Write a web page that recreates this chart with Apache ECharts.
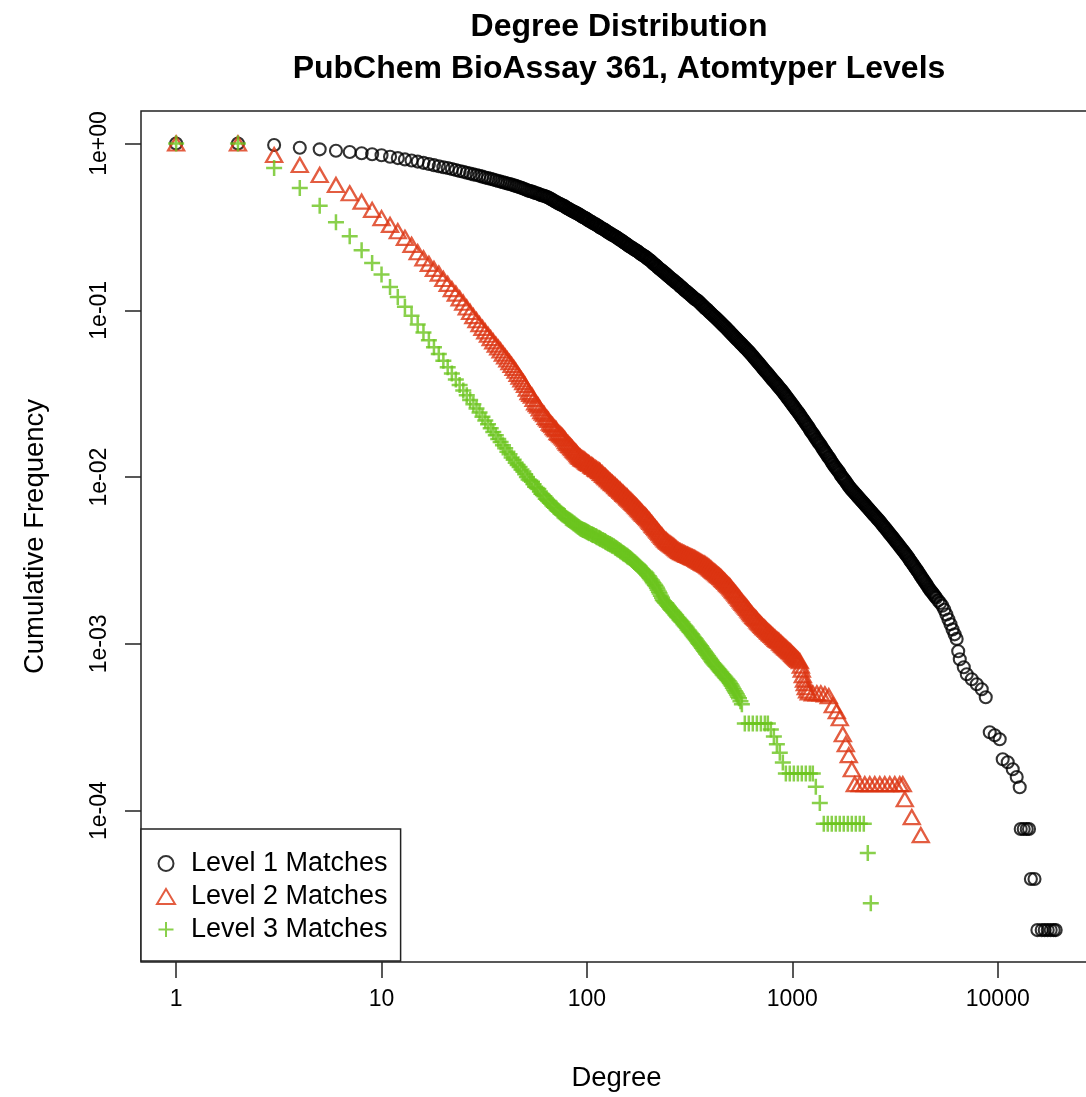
<!DOCTYPE html>
<html>
<head>
<meta charset="utf-8">
<script src="https://cdn.jsdelivr.net/npm/echarts@6/dist/echarts.min.js"></script>
<style>
html,body{margin:0;padding:0;background:#ffffff;}
#chart{width:1086px;height:1097px;}
</style>
</head>
<body>
<div id="chart"></div>
<script>
// ---------------- data ----------------
const titleLines = ['Degree Distribution', 'PubChem BioAssay 361, Atomtyper Levels'];
const xAxisTitle = 'Degree';
const yAxisTitle = 'Cumulative Frequency';
const seriesNames = ['Level 1 Matches', 'Level 2 Matches', 'Level 3 Matches'];

const xTickValues = [1, 10, 100, 1000, 10000];
const xTickLabels = ['1', '10', '100', '1000', '10000'];
const yTickValues = [1, 0.1, 0.01, 0.001, 0.0001];
const yTickLabels = ['1e+00', '1e-01', '1e-02', '1e-03', '1e-04'];

// axis limits (degree, frequency)
const xLimits = [0.6745, 28770];
const yLimits = [1.236e-5, 1.567];

// [degree, cumulative frequency]
const level1Points = [
[1,1],[2,1],[3,0.980],[4,0.944],[5,0.923],[6,0.906],[7,0.889],[8,0.874],[9,0.862],[10,0.850],
[11,0.833],[12,0.818],[13,0.803],[14,0.791],[15,0.779],[16,0.766],[17,0.754],[18,0.742],[19,0.731],[20,0.720],
[21,0.713],[22,0.703],[23,0.694],[24,0.685],[25,0.677],[26,0.668],[27,0.661],[28,0.653],[29,0.647],[30,0.640],
[31,0.633],[32,0.626],[33,0.620],[34,0.614],[35,0.608],[36,0.602],[37,0.596],[38,0.591],[39,0.586],[40,0.581],
[41,0.576],[42,0.572],[43,0.567],[44,0.562],[45,0.557],[46,0.552],[47,0.547],[48,0.542],[49,0.537],[50,0.532],
[51,0.526],[52,0.521],[54,0.516],[55,0.511],[56,0.505],[58,0.500],[59,0.495],[60,0.490],[62,0.486],[63,0.481],
[65,0.475],[66,0.468],[68,0.460],[69,0.453],[71,0.446],[72,0.440],[74,0.433],[76,0.426],[78,0.420],[79,0.413],
[81,0.407],[83,0.401],[85,0.394],[87,0.388],[89,0.383],[91,0.377],[93,0.371],[95,0.364],[98,0.358],[100,0.352],
[102,0.346],[105,0.340],[107,0.334],[110,0.329],[112,0.323],[115,0.317],[117,0.312],[120,0.307],[123,0.302],[126,0.296],
[129,0.291],[132,0.286],[135,0.281],[138,0.276],[141,0.271],[145,0.266],[148,0.261],[151,0.256],[155,0.251],[158,0.246],
[162,0.241],[166,0.237],[170,0.232],[174,0.228],[178,0.224],[182,0.219],[186,0.215],[191,0.211],[195,0.207],[200,0.202],
[204,0.198],[209,0.193],[214,0.188],[219,0.184],[224,0.179],[229,0.175],[234,0.171],[240,0.167],[245,0.163],[251,0.159],
[257,0.155],[263,0.152],[269,0.148],[275,0.145],[282,0.141],[288,0.138],[295,0.134],[302,0.131],[309,0.128],[316,0.125],
[324,0.122],[331,0.119],[339,0.116],[347,0.114],[355,0.111],[363,0.108],[372,0.105],[380,0.102],[389,0.0994],[398,0.0968],
[407,0.0942],[417,0.0917],[427,0.0892],[437,0.0868],[447,0.0845],[457,0.0822],[468,0.0800],[479,0.0777],[490,0.0754],[501,0.0732],
[513,0.0711],[525,0.0690],[537,0.0670],[550,0.0651],[562,0.0632],[575,0.0614],[589,0.0596],[603,0.0579],[617,0.0562],[631,0.0544],
[646,0.0526],[661,0.0509],[676,0.0492],[692,0.0476],[708,0.0460],[724,0.0445],[741,0.0430],[759,0.0416],[776,0.0402],[794,0.0389],
[813,0.0376],[832,0.0364],[851,0.0352],[871,0.0340],[891,0.0329],[912,0.0317],[933,0.0305],[955,0.0294],[977,0.0283],[1000,0.0272],
[1023,0.0262],[1047,0.0252],[1072,0.0243],[1096,0.0233],[1122,0.0224],[1148,0.0215],[1175,0.0206],[1202,0.0198],[1230,0.0189],[1259,0.0182],
[1288,0.0174],[1318,0.0167],[1349,0.0160],[1380,0.0154],[1413,0.0147],[1445,0.0141],[1479,0.0135],[1514,0.0130],[1549,0.0124],[1585,0.0119],
[1622,0.0114],[1660,0.0110],[1698,0.0106],[1738,0.0101],[1778,0.00975],[1820,0.00937],[1862,0.00900],[1905,0.00865],[1950,0.00837],[1995,0.00811],
[2042,0.00785],[2089,0.00760],[2138,0.00736],[2188,0.00713],[2239,0.00691],[2291,0.00669],[2344,0.00648],[2399,0.00627],[2455,0.00607],[2512,0.00588],
[2570,0.00570],[2630,0.00552],[2692,0.00534],[2754,0.00515],[2818,0.00498],[2884,0.00481],[2951,0.00464],[3020,0.00448],[3090,0.00433],[3162,0.00417],
[3236,0.00402],[3311,0.00388],[3388,0.00374],[3467,0.00361],[3548,0.00348],[3631,0.00335],[3715,0.00321],[3802,0.00308],[3890,0.00296],[3981,0.00284],
[4074,0.00273],[4169,0.00261],[4266,0.00250],[4365,0.00240],[4467,0.00230],[4571,0.00220],[4677,0.00211],[4786,0.00204],[4898,0.00196],[5012,0.00189],
[5129,0.00182],[5248,0.00176],[5370,0.00169],[5495,0.00160],[5623,0.00150],[5754,0.00140],[5888,0.00131],[6026,0.00122],[6166,0.00114],[6310,0.00107],
[6420,0.000902],[6534,0.000808],[6834,0.000723],[7066,0.000657],[7474,0.000613],[7904,0.000572],[8359,0.000534],[8742,0.000478],
[9144,0.000295],[9669,0.000283],[10225,0.000268],[10575,0.000203],[11185,0.000195],[11830,0.000177],[12370,0.000159],[12795,0.000138],
[12940,7.75e-5],[13380,7.75e-5],[13840,7.75e-5],[14200,7.75e-5],[14500,3.89e-5],[15100,3.89e-5],
[15600,1.92e-5],[16370,1.92e-5],[16930,1.92e-5],[17510,1.92e-5],[18110,1.92e-5],[18730,1.92e-5],[19150,1.92e-5],
// further readings along the dense part of the band
[53,0.518],[57,0.503],[61,0.488],[64,0.478],[67,0.464],[70,0.449],[73,0.437],[75,0.430],[77,0.423],[80,0.410],
[82,0.404],[84,0.397],[86,0.391],[88,0.385],[90,0.380],[92,0.374],[94,0.367],[96,0.362],[97,0.360],[99,0.355],
[101,0.349],[103,0.343],[106,0.337],[108,0.331],[111,0.326],[114,0.320],[116,0.314],[119,0.309],[122,0.304],[124,0.299],
[127,0.293],[130,0.288],[133,0.283],[137,0.278],[140,0.273],[143,0.268],[146,0.263],[150,0.258],[153,0.253],[157,0.248],
[160,0.243],[164,0.239],[168,0.234],[172,0.230],[176,0.226],[180,0.221],[184,0.217],[188,0.213],[193,0.209],[197,0.204],
[202,0.200],[207,0.195],[211,0.190],[216,0.186],[221,0.181],[226,0.177],[232,0.173],[237,0.169],[243,0.165],[248,0.161],
[254,0.157],[260,0.153],[266,0.150],[272,0.146],[279,0.143],[285,0.139],[292,0.136],[299,0.132],[306,0.129],[313,0.126],
[320,0.123],[327,0.120],[335,0.117],[343,0.115],[351,0.112],[359,0.109],[367,0.106],[376,0.103],[385,0.101],[394,0.0981],
[403,0.0955],[412,0.0929],[422,0.0904],[432,0.0880],[442,0.0856],[452,0.0833],[462,0.0811],[473,0.0788],[484,0.0765],[496,0.0743],
[507,0.0721],[519,0.0700],[531,0.0680],[543,0.0660],[556,0.0641],[569,0.0623],[582,0.0605],[596,0.0587],[610,0.0570],[624,0.0553],
[638,0.0535],[653,0.0517],[669,0.0500],[684,0.0484],[700,0.0468],[716,0.0452],[733,0.0437],[750,0.0423],[768,0.0409],[785,0.0395],
[804,0.0382],[823,0.0370],[842,0.0358],[861,0.0346],[882,0.0334],[902,0.0323],[923,0.0311],[944,0.0299],[967,0.0288],[989,0.0277],
[1012,0.0267],[1035,0.0257],[1059,0.0247],[1084,0.0238],[1109,0.0228],[1135,0.0219],[1161,0.0210],[1189,0.0202],[1216,0.0193],[1244,0.0185],
[1274,0.0178],[1303,0.0170],[1334,0.0163],[1365,0.0157],[1396,0.0150],[1429,0.0144],[1462,0.0138],[1496,0.0132],[1532,0.0127],[1567,0.0121],
[1603,0.0116],[1641,0.0112],[1679,0.0108],[1718,0.0103],[1758,0.00992],[1799,0.00956],[1841,0.00918],[1884,0.00882],[1927,0.00851],[1972,0.00824],
[2018,0.00798],[2066,0.00772],[2113,0.00748],[2163,0.00724],[2213,0.00702],[2265,0.00680],[2318,0.00658],[2371,0.00637],[2427,0.00617],[2483,0.00597],
[2541,0.00579],[2600,0.00561],[2661,0.00543],[2723,0.00524],[2786,0.00506],[2851,0.00489],[2918,0.00472],[2985,0.00456],[3055,0.00440],[3126,0.00425],
[3199,0.00409],[3274,0.00395],[3349,0.00381],[3427,0.00367],[3507,0.00354],[3589,0.00341],[3673,0.00328],[3758,0.00314],[3846,0.00302],[3935,0.00290],
[4027,0.00278],[4121,0.00267],[4217,0.00255],[4315,0.00245],[4416,0.00235],[4519,0.00225],[4624,0.00215],[4731,0.00207],[4842,0.00200],[4955,0.00192]
];

const level2Points = [
[1,1],[2,1],[3,0.853],[4,0.743],[5,0.648],[6,0.564],[7,0.503],[8,0.448],[9,0.400],[10,0.357],
[11,0.325],[12,0.298],[13,0.272],[14,0.247],[15,0.223],[16,0.205],[17,0.190],[18,0.177],[19,0.166],[20,0.154],
[21,0.144],[22,0.134],[23,0.126],[24,0.118],[25,0.111],[26,0.104],[27,0.0977],[28,0.0922],[29,0.0872],[30,0.0825],
[31,0.0785],[32,0.0747],[33,0.0713],[34,0.0681],[35,0.0651],[36,0.0623],[37,0.0598],[38,0.0574],[39,0.0550],[40,0.0528],
[41,0.0507],[42,0.0488],[43,0.0470],[44,0.0452],[45,0.0434],[46,0.0416],[47,0.0400],[48,0.0385],[49,0.0371],[50,0.0357],
[51,0.0339],[52,0.0323],[54,0.0308],[55,0.0294],[56,0.0280],[58,0.0268],[59,0.0258],[60,0.0248],[62,0.0238],[63,0.0229],
[65,0.0220],[66,0.0212],[68,0.0205],[69,0.0199],[71,0.0193],[72,0.0186],[74,0.0181],[76,0.0175],[78,0.0169],[79,0.0164],
[81,0.0159],[83,0.0154],[85,0.0149],[87,0.0144],[89,0.0140],[91,0.0135],[93,0.0132],[95,0.0129],[98,0.0126],[100,0.0123],
[102,0.0121],[105,0.0118],[107,0.0116],[110,0.0113],[112,0.0111],[115,0.0109],[117,0.0106],[120,0.0103],[123,0.0101],[126,0.00980],
[129,0.00955],[132,0.00930],[135,0.00906],[138,0.00882],[141,0.00859],[145,0.00836],[148,0.00814],[151,0.00793],[155,0.00772],[158,0.00752],
[162,0.00732],[166,0.00710],[170,0.00689],[174,0.00669],[178,0.00649],[182,0.00630],[186,0.00611],[191,0.00593],[195,0.00576],[200,0.00557],
[204,0.00538],[209,0.00519],[214,0.00502],[219,0.00485],[224,0.00468],[229,0.00452],[234,0.00437],[240,0.00422],[245,0.00413],[251,0.00403],
[257,0.00394],[263,0.00386],[269,0.00377],[275,0.00368],[282,0.00360],[288,0.00355],[295,0.00350],[302,0.00345],[309,0.00341],[316,0.00336],
[324,0.00332],[331,0.00328],[339,0.00323],[347,0.00317],[355,0.00312],[363,0.00307],[372,0.00302],[380,0.00297],[389,0.00291],[398,0.00284],
[407,0.00277],[417,0.00271],[427,0.00264],[437,0.00258],[447,0.00252],[457,0.00245],[468,0.00238],[479,0.00231],[490,0.00225],[501,0.00218],
[513,0.00210],[525,0.00203],[537,0.00196],[550,0.00189],[562,0.00182],[575,0.00176],[589,0.00170],[603,0.00164],[617,0.00158],[631,0.00152],
[646,0.00147],[661,0.00143],[676,0.00138],[692,0.00134],[708,0.00130],[724,0.00126],[741,0.00123],[759,0.00119],[776,0.00116],[794,0.00113],
[813,0.00110],[832,0.00107],[851,0.00105],[871,0.00102],[891,0.000993],[912,0.000968],[933,0.000944],[955,0.000920],[977,0.000896],[1000,0.000871],
[1023,0.000847],[1047,0.000823],[1072,0.000800],[1088,0.000786],[1100,0.000740],[1112,0.000700],[1125,0.000648],[1140,0.000610],[1150,0.000580],
[1163,0.000549],[1180,0.000525],[1203,0.000512],[1258,0.000505],[1316,0.000505],[1376,0.000505],[1440,0.000498],[1505,0.000485],
[1574,0.000428],[1646,0.000394],[1702,0.000358],[1761,0.000287],[1821,0.000250],[1883,0.000215],[1948,0.000177],
[2014,0.000144],[2130,0.000144],[2253,0.000144],[2383,0.000144],[2520,0.000144],[2666,0.000144],[2819,0.000144],[2982,0.000144],[3154,0.000144],[3335,0.000144],[3450,0.000144],
[3528,0.000117],[3815,9.14e-5],[4220,7.13e-5],
// further readings along the dense part of the band
[53,0.0315],[57,0.0274],[61,0.0243],[64,0.0225],[67,0.0208],[70,0.0196],[73,0.0184],[75,0.0178],[77,0.0172],[80,0.0161],
[82,0.0156],[84,0.0151],[86,0.0146],[88,0.0142],[90,0.0137],[92,0.0133],[94,0.0130],[96,0.0128],[97,0.0127],[99,0.0124],
[101,0.0122],[103,0.0120],[106,0.0117],[108,0.0115],[111,0.0112],[114,0.0110],[116,0.0108],[119,0.0105],[122,0.0102],[124,0.00995],
[127,0.00968],[130,0.00943],[133,0.00918],[137,0.00894],[140,0.00871],[143,0.00848],[146,0.00825],[150,0.00804],[153,0.00783],[157,0.00762],
[160,0.00742],[164,0.00721],[168,0.00700],[172,0.00679],[176,0.00659],[180,0.00640],[184,0.00621],[188,0.00602],[193,0.00585],[197,0.00567],
[202,0.00548],[207,0.00529],[211,0.00511],[216,0.00494],[221,0.00477],[226,0.00460],[232,0.00445],[237,0.00430],[243,0.00418],[248,0.00408],
[254,0.00399],[260,0.00390],[266,0.00382],[272,0.00373],[279,0.00364],[285,0.00358],[292,0.00353],[299,0.00348],[306,0.00343],[313,0.00339],
[320,0.00334],[327,0.00330],[335,0.00326],[343,0.00320],[351,0.00315],[359,0.00310],[367,0.00305],[376,0.00300],[385,0.00294],[394,0.00288],
[403,0.00281],[412,0.00274],[422,0.00268],[432,0.00261],[442,0.00255],[452,0.00249],[462,0.00242],[473,0.00235],[484,0.00228],[496,0.00222],
[507,0.00214],[519,0.00207],[531,0.00200],[543,0.00193],[556,0.00186],[569,0.00179],[582,0.00173],[596,0.00167],[610,0.00161],[624,0.00155],
[638,0.00150],[653,0.00145],[669,0.00141],[684,0.00136],[700,0.00132],[716,0.00128],[733,0.00125],[750,0.00121],[768,0.00118],[785,0.00115],
[804,0.00112],[823,0.00109],[842,0.00106],[861,0.00104],[882,0.00101],[902,0.000981],[923,0.000956],[944,0.000932],[967,0.000908],[989,0.000884],
[1012,0.000859],[1035,0.000835],[1059,0.000812]
];

const level3Points = [
[1,1],[2,1],[3,0.713],[4,0.541],[5,0.424],[6,0.337],[7,0.278],[8,0.229],[9,0.192],[10,0.164],
[11,0.138],[12,0.120],[13,0.105],[14,0.0928],[15,0.0823],[16,0.0736],[17,0.0662],[18,0.0600],[19,0.0546],[20,0.0499],
[21,0.0455],[22,0.0418],[23,0.0385],[24,0.0356],[25,0.0330],[26,0.0309],[27,0.0290],[28,0.0273],[29,0.0258],[30,0.0244],
[31,0.0230],[32,0.0218],[33,0.0207],[34,0.0196],[35,0.0186],[36,0.0178],[37,0.0169],[38,0.0162],[39,0.0155],[40,0.0149],
[41,0.0142],[42,0.0137],[43,0.0131],[44,0.0127],[45,0.0122],[46,0.0118],[47,0.0115],[48,0.0111],[49,0.0108],[50,0.0104],
[51,0.0100],[52,0.00968],[54,0.00936],[55,0.00905],[56,0.00876],[58,0.00847],[59,0.00819],[60,0.00793],[62,0.00767],[63,0.00742],
[65,0.00719],[66,0.00701],[68,0.00682],[69,0.00664],[71,0.00647],[72,0.00630],[74,0.00613],[76,0.00597],[78,0.00584],[79,0.00571],
[81,0.00559],[83,0.00547],[85,0.00535],[87,0.00524],[89,0.00512],[91,0.00501],[93,0.00492],[95,0.00485],[98,0.00477],[100,0.00470],
[102,0.00463],[105,0.00456],[107,0.00450],[110,0.00443],[112,0.00436],[115,0.00429],[117,0.00423],[120,0.00416],[123,0.00409],[126,0.00403],
[129,0.00397],[132,0.00390],[135,0.00384],[138,0.00376],[141,0.00369],[145,0.00361],[148,0.00354],[151,0.00347],[155,0.00340],[158,0.00333],
[162,0.00327],[166,0.00318],[170,0.00310],[174,0.00302],[178,0.00294],[182,0.00286],[186,0.00278],[191,0.00271],[195,0.00264],[200,0.00254],
[204,0.00244],[209,0.00235],[214,0.00226],[219,0.00217],[224,0.00205],[229,0.00194],[234,0.00183],[240,0.00177],[245,0.00172],[251,0.00166],
[257,0.00160],[263,0.00155],[269,0.00150],[275,0.00145],[282,0.00140],[288,0.00136],[295,0.00131],[302,0.00127],[309,0.00122],[316,0.00118],
[324,0.00114],[331,0.00110],[339,0.00106],[347,0.00102],[355,0.000984],[363,0.000947],[372,0.000910],[380,0.000876],[389,0.000842],[398,0.000810],
[407,0.000779],[417,0.000752],[427,0.000728],[437,0.000704],[447,0.000681],[457,0.000658],[468,0.000637],[479,0.000616],[490,0.000596],[501,0.000573],
[513,0.000546],[525,0.000520],[537,0.000496],[550,0.000472],[568,0.000434],
[587,0.000333],[614,0.000333],[642,0.000333],[672,0.000333],[703,0.000333],[735,0.000333],[760,0.000333],
[786,0.000306],[813,0.000278],[841,0.000250],[869,0.000222],[899,0.000194],
[930,0.000167],[972,0.000167],[1017,0.000167],[1064,0.000167],[1112,0.000167],[1163,0.000167],[1217,0.000167],[1258,0.000167],
[1301,0.000139],[1361,0.000111],
[1423,8.33e-5],[1488,8.33e-5],[1556,8.33e-5],[1628,8.33e-5],[1702,8.33e-5],[1780,8.33e-5],[1863,8.33e-5],[1948,8.33e-5],[2037,8.33e-5],[2130,8.33e-5],[2228,8.33e-5],
[2330,5.56e-5],[2410,2.78e-5],
// further readings along the dense part of the band
[53,0.00952],[57,0.00861],[61,0.00780],[64,0.00730],[67,0.00691],[70,0.00655],[73,0.00621],[75,0.00605],[77,0.00590],[80,0.00565],
[82,0.00553],[84,0.00541],[86,0.00529],[88,0.00518],[90,0.00507],[92,0.00496],[94,0.00488],[96,0.00482],[97,0.00480],[99,0.00473],
[101,0.00467],[103,0.00460],[106,0.00453],[108,0.00447],[111,0.00440],[114,0.00433],[116,0.00426],[119,0.00420],[122,0.00413],[124,0.00406],
[127,0.00400],[130,0.00394],[133,0.00387],[137,0.00380],[140,0.00373],[143,0.00365],[146,0.00358],[150,0.00351],[153,0.00344],[157,0.00337],
[160,0.00330],[164,0.00323],[168,0.00314],[172,0.00306],[176,0.00298],[180,0.00290],[184,0.00282],[188,0.00275],[193,0.00268],[197,0.00259],
[202,0.00249],[207,0.00240],[211,0.00231],[216,0.00222],[221,0.00211],[226,0.00200],[232,0.00189],[237,0.00180],[243,0.00175],[248,0.00169],
[254,0.00163],[260,0.00158],[266,0.00153],[272,0.00148],[279,0.00143],[285,0.00138],[292,0.00134],[299,0.00129],[306,0.00125],[313,0.00120],
[320,0.00116],[327,0.00112],[335,0.00108],[343,0.00104],[351,0.00100],[359,0.000966],[367,0.000929],[376,0.000893],[385,0.000859],[394,0.000826],
[403,0.000795],[412,0.000766],[422,0.000740],[432,0.000716],[442,0.000693],[452,0.000670],[462,0.000648],[473,0.000627],[484,0.000606],[496,0.000585],
[507,0.000560],[519,0.000533],[531,0.000508],[543,0.000484],[559,0.000453]
];

// ---------------- chart ----------------
const FONT = '"Liberation Sans", Arial, Helvetica, sans-serif';
const RED = '#DC3512';
const GREEN = '#6CC41E';
const lg = v => Math.log10(v);
const toLog = pts => pts.map(p => [lg(p[0]), lg(p[1])]);
const labelFor = (values, labels) => v => {
  const i = values.findIndex(t => Math.abs(lg(t) - v) < 1e-6);
  return i >= 0 ? labels[i] : '';
};

const chart = echarts.init(document.getElementById('chart'), null, {renderer: 'canvas'});
chart.setOption({
  animation: false,
  backgroundColor: '#ffffff',
  title: {
    text: titleLines.join('\n'),
    left: 614, top: 1, textAlign: 'center',
    textStyle: {fontFamily: FONT, fontSize: 32, fontWeight: 'bold', color: '#000', lineHeight: 42}
  },
  grid: {
    left: 141, top: 111, width: 951, height: 851,
    containLabel: false, outerBoundsMode: 'none',
    show: true, borderColor: '#222', borderWidth: 1.5, backgroundColor: 'transparent'
  },
  xAxis: {
    type: 'value', min: lg(xLimits[0]), max: lg(xLimits[1]),
    name: xAxisTitle, nameLocation: 'middle', nameGap: 102,
    nameTextStyle: {fontFamily: FONT, fontSize: 27.5, color: '#000'},
    axisLine: {show: false, onZero: false},
    splitLine: {show: false},
    axisTick: {show: true, inside: false, customValues: xTickValues.map(lg), length: 16, lineStyle: {color: '#222', width: 1.5}},
    axisLabel: {show: true, customValues: xTickValues.map(lg), margin: 26, formatter: labelFor(xTickValues, xTickLabels),
      fontFamily: FONT, fontSize: 23, color: '#000'}
  },
  yAxis: {
    type: 'value', min: lg(yLimits[0]), max: lg(yLimits[1]),
    name: yAxisTitle, nameLocation: 'middle', nameGap: 92, nameRotate: 90,
    nameTextStyle: {fontFamily: FONT, fontSize: 27.5, color: '#000'},
    axisLine: {show: false, onZero: false},
    splitLine: {show: false},
    axisTick: {show: true, inside: false, customValues: yTickValues.map(lg), length: 16, lineStyle: {color: '#222', width: 1.5}},
    axisLabel: {show: true, customValues: yTickValues.map(lg), margin: 30, rotate: 90, formatter: labelFor(yTickValues, yTickLabels),
      fontFamily: FONT, fontSize: 23, color: '#000'}
  },
  legend: {
    orient: 'vertical', left: 141, top: 829,
    padding: [18, 13, 15, 15], itemGap: 0, itemWidth: 18, itemHeight: 15,
    backgroundColor: '#ffffff', borderColor: '#222', borderWidth: 1.5, borderRadius: 0,
    selectedMode: false,
    textStyle: {fontFamily: FONT, fontSize: 27, color: '#000', lineHeight: 33, padding: [0, 0, 0, 11]},
    data: seriesNames
  },
  series: [
    {
      name: seriesNames[0], type: 'scatter', data: toLog(level1Points), silent: true,
      symbol: 'circle', symbolSize: 12,
      itemStyle: {color: 'rgba(0,0,0,0)', borderColor: '#000000', borderWidth: 2.1}
    },
    {
      name: seriesNames[1], type: 'scatter', data: toLog(level2Points), silent: true,
      symbol: 'triangle', symbolSize: [16, 14],
      itemStyle: {color: 'rgba(0,0,0,0)', borderColor: RED, borderWidth: 2.3}
    },
    {
      name: seriesNames[2], type: 'scatter', data: toLog(level3Points), silent: true,
      symbol: 'path://M0,8L16,8M8,0L8,16', symbolSize: 16,
      itemStyle: {color: 'rgba(0,0,0,0)', borderColor: GREEN, borderWidth: 2.5}
    }
  ]
});
</script>
</body>
</html>
